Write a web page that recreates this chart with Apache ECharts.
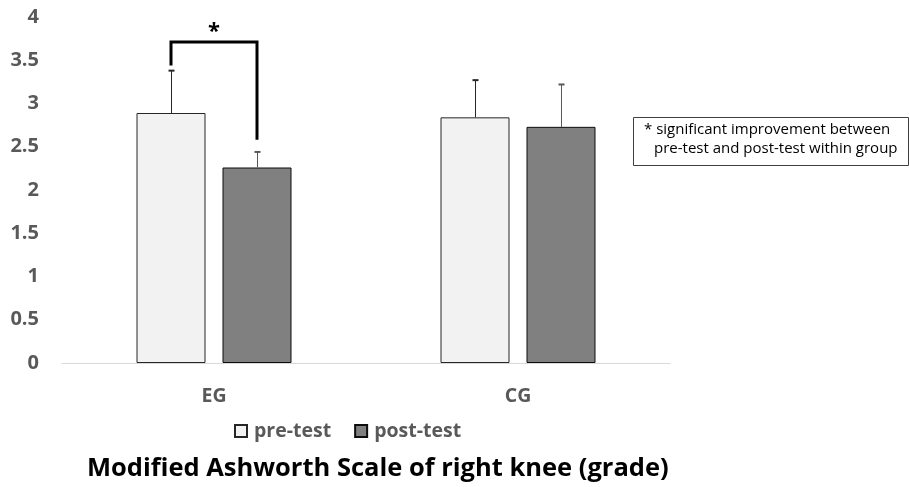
<!DOCTYPE html>
<html><head><meta charset="utf-8">
<script src="https://cdn.jsdelivr.net/npm/echarts@6/dist/echarts.min.js"></script>
<style>html,body{margin:0;padding:0;background:#fff}#c{width:909px;height:487px}</style>
</head><body><div id="c"></div>
<script>
const categories = ['EG', 'CG'];
const preTest = [2.89, 2.84];
const postTest = [2.26, 2.73];
const preErr = [0.49, 0.43];
const postErr = [0.18, 0.49];
const yTicks = [0, 0.5, 1, 1.5, 2, 2.5, 3, 3.5, 4];
// significance bracket for EG: [top, left leg bottom, right leg bottom]
const bracketEG = [3.71, 3.44, 2.58];

const FONT = '"Open Sans", "Noto Sans", sans-serif';
const BAR_W = 69, BAR_GAP = 17;
const OFF = (BAR_W + BAR_GAP) / 2;
const LBL = 19.5;

const chart = echarts.init(document.getElementById('c'), null, {renderer: 'canvas'});

function errRender(sign, vals, errs, color) {
  return function (params, api) {
    const i = api.value(0);
    const c = api.coord([i, vals[i]]);
    const t = api.coord([i, vals[i] + errs[i]]);
    const x = Math.round(c[0] + sign * OFF) + 0.5;
    return {
      type: 'group',
      children: [
        {type: 'line', shape: {x1: x, y1: c[1], x2: x, y2: t[1]}, style: {stroke: color, lineWidth: 1}},
        {type: 'line', shape: {x1: x - 3, y1: t[1], x2: x + 3, y2: t[1]}, style: {stroke: color, lineWidth: 2}}
      ]
    };
  };
}

chart.setOption({
  animation: false,
  grid: {left: 62, right: 239, top: 17, bottom: 124},
  legend: {
    left: 234, top: 421, padding: 0, itemWidth: 12, itemHeight: 12, itemGap: 23, icon: 'rect',
    textStyle: {fontFamily: FONT, fontSize: LBL, fontWeight: 'bold', color: '#595959', padding: [0, 0, 0, 2]},
    data: ['pre-test', 'post-test']
  },
  title: {
    text: 'Modified Ashworth Scale of right knee (grade)',
    left: 87, top: 456, padding: 0,
    textStyle: {fontFamily: FONT, fontSize: 25.5, fontWeight: 'bold', color: '#000'}
  },
  xAxis: {
    type: 'category', data: categories,
    axisLine: {lineStyle: {color: '#d9d9d9', width: 1}},
    axisTick: {show: false},
    axisLabel: {fontFamily: FONT, fontSize: LBL, fontWeight: 'bold', color: '#595959', margin: 23}
  },
  yAxis: {
    type: 'value', min: 0, max: 4, interval: 0.5,
    axisLine: {show: false}, axisTick: {show: false}, splitLine: {show: false},
    axisLabel: {fontFamily: FONT, fontSize: 20, fontWeight: 'bold', color: '#595959', margin: 23,
      formatter: v => yTicks.includes(v) ? String(v) : ''}
  },
  series: [
    {name: 'pre-test', type: 'bar', data: preTest, barWidth: BAR_W, barGap: (BAR_GAP / BAR_W * 100) + '%',
     itemStyle: {color: '#f2f2f2', borderColor: '#262626', borderWidth: 1}},
    {name: 'post-test', type: 'bar', data: postTest, barWidth: BAR_W,
     itemStyle: {color: '#808080', borderColor: '#0d0d0d', borderWidth: 1}},
    {type: 'custom', data: [0, 1], renderItem: errRender(-1, preTest, preErr, '#262626'), z: 5, silent: true},
    {type: 'custom', data: [0, 1], renderItem: errRender(1, postTest, postErr, '#595959'), z: 5, silent: true},
    {type: 'custom', data: [0], z: 6, silent: true,
     renderItem: function (params, api) {
       const i = api.value(0);
       const top = api.coord([i, bracketEG[0]]);
       const lb = api.coord([i, bracketEG[1]]);
       const rb = api.coord([i, bracketEG[2]]);
       const xl = top[0] - OFF, xr = top[0] + OFF;
       return {
         type: 'group',
         children: [
           {type: 'polyline', shape: {points: [[xl, lb[1]], [xl, top[1]], [xr, top[1]], [xr, rb[1]]]},
            style: {stroke: '#000', lineWidth: 3, fill: null}},
           {type: 'text', x: top[0], y: top[1] - 10,
            style: {text: '*', fontFamily: FONT, fontSize: 22, fontWeight: 'bold', fill: '#000',
                    align: 'center', verticalAlign: 'middle'}}
         ]
       };
     }}
  ],
  graphic: [
    {type: 'rect', left: 633, top: 117, shape: {width: 275, height: 48},
     style: {fill: '#fff', stroke: '#404040', lineWidth: 1}},
    {type: 'text', x: 644, y: 130,
     style: {text: '* significant improvement between', fontFamily: FONT, fontSize: 15,
             fill: '#000', verticalAlign: 'middle'}},
    {type: 'text', x: 654, y: 149,
     style: {text: 'pre-test and post-test within group', fontFamily: FONT, fontSize: 15,
             fill: '#000', verticalAlign: 'middle'}}
  ]
});
</script></body></html>
